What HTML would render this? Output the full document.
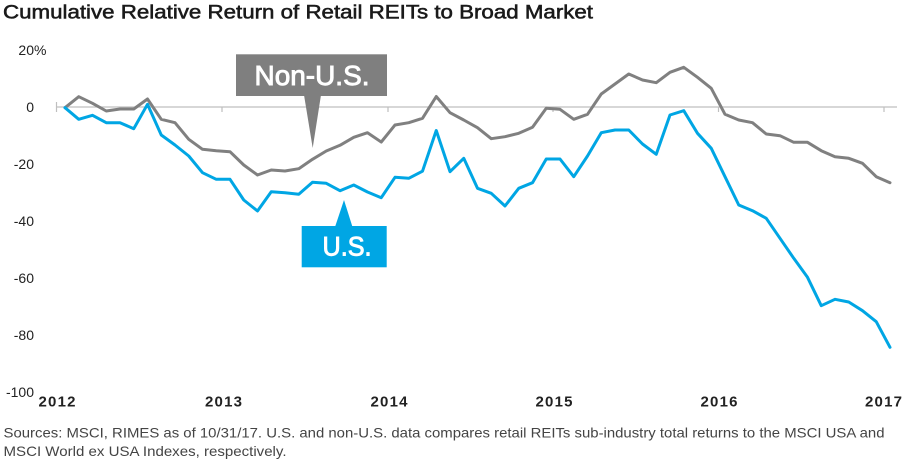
<!DOCTYPE html>
<html>
<head>
<meta charset="utf-8">
<style>
  html, body { margin: 0; padding: 0; background: #ffffff; }
  svg { display: block; }
  text { font-family: "Liberation Sans", sans-serif; }
</style>
</head>
<body>
<svg width="916" height="460" viewBox="0 0 916 460" xmlns="http://www.w3.org/2000/svg">
  <rect width="916" height="460" fill="#ffffff"/>

  <!-- Title -->
  <text x="3" y="18.5" font-size="19.5" fill="#1a1a1a" stroke="#1a1a1a" stroke-width="0.55" textLength="590" lengthAdjust="spacingAndGlyphs">Cumulative Relative Return of Retail REITs to Broad Market</text>

  <!-- Y axis labels -->
  <g font-size="14" fill="#222" text-anchor="end">
    <text x="34" y="55">20</text>
    <text x="34" y="112">0</text>
    <text x="34" y="169">-20</text>
    <text x="34" y="226">-40</text>
    <text x="34" y="283">-60</text>
    <text x="34" y="340">-80</text>
    <text x="34" y="397">-100</text>
  </g>
  <text x="34" y="55" font-size="14" fill="#222">%</text>

  <!-- Zero axis line + ticks -->
  <line x1="56" y1="107" x2="897" y2="107" stroke="#bfbfbf" stroke-width="1.2"/>
  <g stroke="#bfbfbf" stroke-width="1.2">
    <line x1="56.5" y1="102" x2="56.5" y2="112"/>
    <line x1="222" y1="107" x2="222" y2="112"/>
    <line x1="388" y1="107" x2="388" y2="112"/>
    <line x1="553" y1="107" x2="553" y2="112"/>
    <line x1="718.5" y1="107" x2="718.5" y2="112"/>
    <line x1="884" y1="107" x2="884" y2="112"/>
  </g>

  <!-- X axis year labels -->
  <g font-size="15" font-weight="bold" fill="#222" text-anchor="middle">
    <text x="57" y="406.7" textLength="37" lengthAdjust="spacing">2012</text>
    <text x="223.5" y="406.7" textLength="37" lengthAdjust="spacing">2013</text>
    <text x="389" y="406.7" textLength="37" lengthAdjust="spacing">2014</text>
    <text x="554" y="406.7" textLength="37" lengthAdjust="spacing">2015</text>
    <text x="719" y="406.7" textLength="37" lengthAdjust="spacing">2016</text>
    <text x="883.5" y="406.7" textLength="37" lengthAdjust="spacing">2017</text>
  </g>

  <!-- Non-U.S. series (gray) -->
  <polyline fill="none" stroke="#808080" stroke-width="3" stroke-linejoin="round" stroke-linecap="round"
    points="65,107.7 78.75,96.7 92.5,103.3 106.25,111 120,109 133.75,109 147.5,99 161.25,119.3 175,122.7 188.75,139.3 202.5,149.3 216.25,150.7 230,151.7 243.75,165 257.5,175 271.25,170 285,171 298.75,168.7 312.5,159.3 326.25,151 340,145.3 353.75,137.3 367.5,132.7 381.25,142 395,125 408.75,122.7 422.5,118.3 436.25,96.5 450,112.7 463.75,120 477.5,127.7 491.25,138.7 505,136.7 518.75,133.3 532.5,127.3 546.25,108.3 560,109.3 573.75,119.3 587.5,114.3 601.25,94 615,84 628.75,74 642.5,80 656.25,82.7 670,72.3 683.75,67.3 697.5,77.3 711.25,88.3 725,114.3 738.75,120 752.5,122.7 766.25,134 780,135.7 793.75,142.3 807.5,142.3 821.25,150.7 835,156.7 848.75,158.3 862.5,163.3 876.25,176.7 890,182.7"/>

  <!-- U.S. series (blue) -->
  <polyline fill="none" stroke="#00a6e4" stroke-width="3" stroke-linejoin="round" stroke-linecap="round"
    points="65,107.7 78.75,119.3 92.5,115.3 106.25,122.7 120,122.7 133.75,128.7 147.5,104.3 161.25,135 175,145 188.75,156 202.5,172.7 216.25,179.3 230,179.3 243.75,200 257.5,211 271.25,191.7 285,192.7 298.75,194.3 312.5,182.3 326.25,183.3 340,190.7 353.75,185 367.5,192 381.25,197.7 395,177.3 408.75,178.3 422.5,171.2 436.25,130.5 450,171.7 463.75,158.3 477.5,188.3 491.25,193.3 505,206 518.75,188.3 532.5,182.7 546.25,159 560,159 573.75,176.7 587.5,156 601.25,132.7 615,130 628.75,130 642.5,144 656.25,154.3 670,115 683.75,110.7 697.5,133.3 711.25,148.3 725,176.7 738.75,205 752.5,210.7 766.25,218.3 780,238.3 793.75,258.3 807.5,277.3 821.25,305.7 835,299.3 848.75,302 862.5,310.7 876.25,321.7 890,347.3"/>

  <!-- Non-U.S. callout -->
  <rect x="236" y="54.3" width="151" height="41.7" fill="#7f7f7f"/>
  <polygon points="304,95 321,95 312.7,148" fill="#7f7f7f"/>
  <text x="312" y="85" font-size="28" fill="#ffffff" text-anchor="middle" stroke="#ffffff" stroke-width="0.9" textLength="115" lengthAdjust="spacingAndGlyphs">Non-U.S.</text>

  <!-- U.S. callout -->
  <rect x="301.7" y="226" width="85" height="41.3" fill="#00a6e4"/>
  <polygon points="335,227 352.5,227 344,200" fill="#00a6e4"/>
  <text x="347" y="255.7" font-size="27" fill="#ffffff" text-anchor="middle" stroke="#ffffff" stroke-width="0.9" textLength="49" lengthAdjust="spacingAndGlyphs">U.S.</text>

  <!-- Footnote -->
  <g font-size="14" fill="#444">
    <text x="3.5" y="437.7" textLength="881" lengthAdjust="spacingAndGlyphs">Sources: MSCI, RIMES as of 10/31/17. U.S. and non-U.S. data compares retail REITs sub-industry total returns to the MSCI USA and</text>
    <text x="3.5" y="456" textLength="283" lengthAdjust="spacingAndGlyphs">MSCI World ex USA Indexes, respectively.</text>
  </g>
</svg>
</body>
</html>
